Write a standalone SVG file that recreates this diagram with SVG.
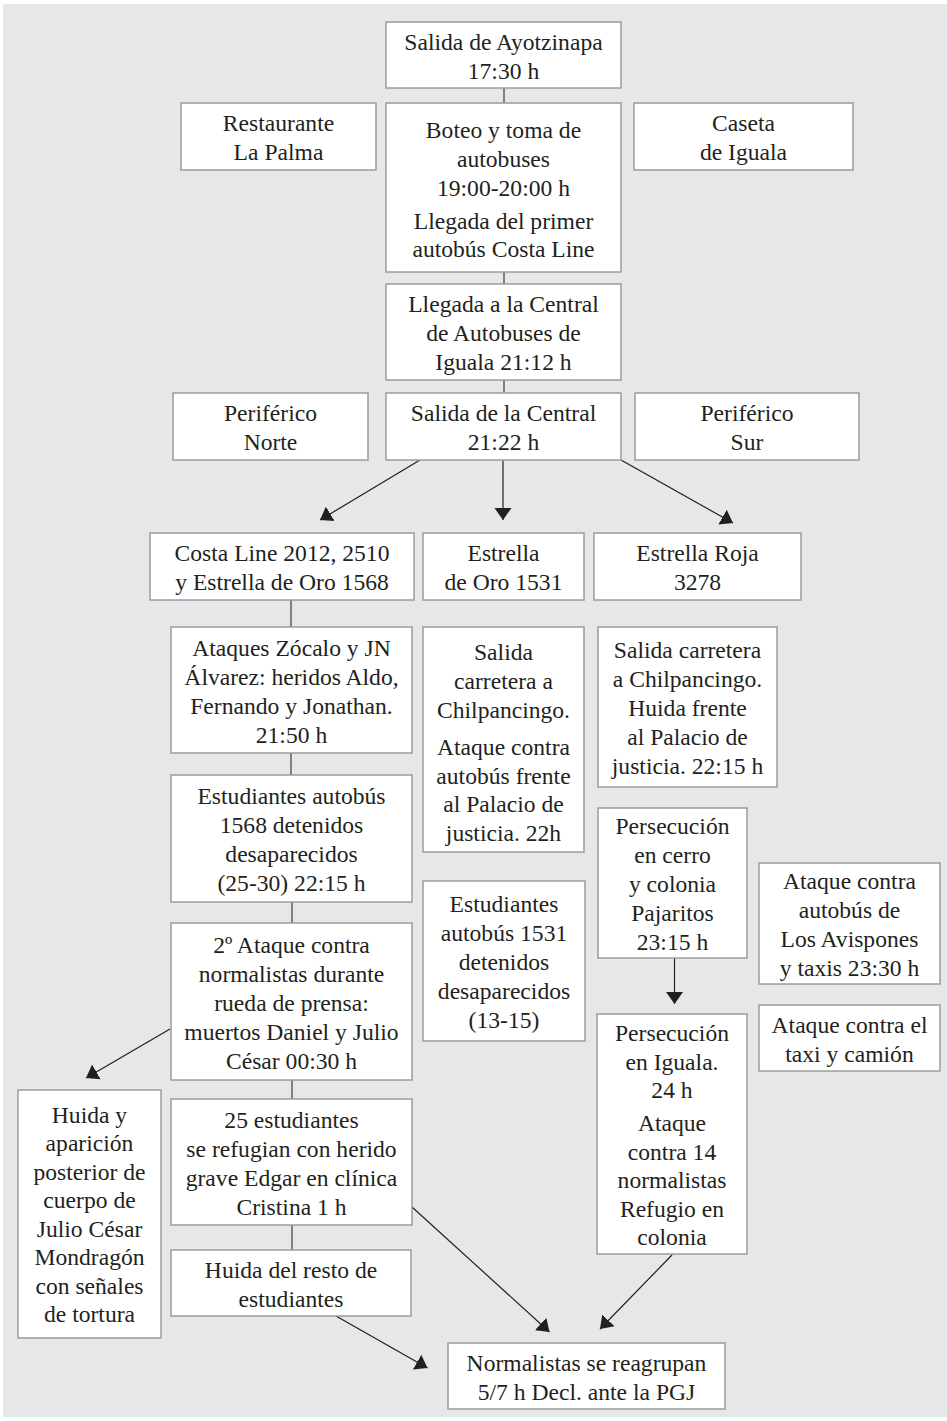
<svg xmlns="http://www.w3.org/2000/svg" width="947" height="1421" viewBox="0 0 947 1421">
  <defs>
    <style>
      .box { fill: #ffffff; stroke: #9c9c9c; stroke-width: 1.5; }
      .t { font-family: "Liberation Serif", "Times New Roman", serif; font-size: 23.6px; fill: #231f20; text-anchor: middle; }
      .ln { stroke: #3c3c3c; stroke-width: 1.2; fill: none; }
      .arr { stroke: #231f20; stroke-width: 1.2; fill: none; marker-end: url(#head); }
    </style>
    <marker id="head" markerUnits="userSpaceOnUse" markerWidth="14" markerHeight="20" refX="12" refY="9" orient="auto">
      <path d="M0,0.5 L12,9 L0,17.5 z" fill="#231f20"/>
    </marker>
  </defs>

  <!-- page background -->
  <rect x="3" y="4" width="944" height="1413" fill="#e6e7e8"/>

  <!-- connectors -->
  <g id="connectors">
    <line class="ln" x1="504" y1="88" x2="504" y2="103"/>
    <line class="ln" x1="504" y1="272" x2="504" y2="284"/>
    <line class="ln" x1="504" y1="380" x2="504" y2="393"/>
    <line class="arr" x1="420" y1="460" x2="320" y2="520"/>
    <line class="arr" x1="503" y1="460" x2="503" y2="520"/>
    <line class="arr" x1="621" y1="460" x2="733" y2="523"/>
    <line class="ln" x1="291" y1="600" x2="291" y2="627"/>
    <line class="ln" x1="291" y1="753" x2="291" y2="775"/>
    <line class="ln" x1="292" y1="902" x2="292" y2="923"/>
    <line class="ln" x1="292" y1="1080" x2="292" y2="1099"/>
    <line class="ln" x1="292" y1="1225" x2="292" y2="1250"/>
    <line class="arr" x1="674.5" y1="958" x2="674.5" y2="1004"/>
    <line class="arr" x1="170" y1="1029" x2="86" y2="1078"/>
    <line class="arr" x1="412" y1="1207" x2="549.5" y2="1332"/>
    <line class="arr" x1="672" y1="1255" x2="600" y2="1329"/>
    <line class="arr" x1="336" y1="1316" x2="427.5" y2="1368"/>
  </g>

  <g id="salida-ayotzinapa">
    <rect class="box" x="386" y="22" width="235" height="66"/>
    <text class="t"><tspan x="503.5" y="49.5">Salida de Ayotzinapa</tspan><tspan x="503.5" y="78.5">17:30 h</tspan></text>
  </g>

  <g id="restaurante">
    <rect class="box" x="181" y="103" width="195" height="67"/>
    <text class="t"><tspan x="278.5" y="131">Restaurante</tspan><tspan x="278.5" y="160">La Palma</tspan></text>
  </g>

  <g id="boteo">
    <rect class="box" x="386" y="103" width="235" height="169"/>
    <text class="t"><tspan x="503.5" y="138">Boteo y toma de</tspan><tspan x="503.5" y="167">autobuses</tspan><tspan x="503.5" y="196">19:00-20:00 h</tspan><tspan x="503.5" y="229">Llegada del primer</tspan><tspan x="503.5" y="257">autobús Costa Line</tspan></text>
  </g>

  <g id="caseta">
    <rect class="box" x="634" y="103" width="219" height="67"/>
    <text class="t"><tspan x="743.5" y="131">Caseta</tspan><tspan x="743.5" y="160">de Iguala</tspan></text>
  </g>

  <g id="llegada-central">
    <rect class="box" x="386" y="284" width="235" height="96"/>
    <text class="t"><tspan x="503.5" y="312">Llegada a la Central</tspan><tspan x="503.5" y="341">de Autobuses de</tspan><tspan x="503.5" y="370">Iguala 21:12 h</tspan></text>
  </g>

  <g id="periferico-norte">
    <rect class="box" x="173" y="393" width="195" height="67"/>
    <text class="t"><tspan x="270.5" y="421">Periférico</tspan><tspan x="270.5" y="450">Norte</tspan></text>
  </g>

  <g id="salida-central">
    <rect class="box" x="386" y="393" width="235" height="67"/>
    <text class="t"><tspan x="503.5" y="421">Salida de la Central</tspan><tspan x="503.5" y="450">21:22 h</tspan></text>
  </g>

  <g id="periferico-sur">
    <rect class="box" x="635" y="393" width="224" height="67"/>
    <text class="t"><tspan x="747" y="421">Periférico</tspan><tspan x="747" y="450">Sur</tspan></text>
  </g>

  <g id="costa-line">
    <rect class="box" x="150" y="533" width="264" height="67"/>
    <text class="t"><tspan x="282" y="561">Costa Line 2012, 2510</tspan><tspan x="282" y="590">y Estrella de Oro 1568</tspan></text>
  </g>

  <g id="estrella-oro">
    <rect class="box" x="423" y="533" width="161" height="67"/>
    <text class="t"><tspan x="503.5" y="561">Estrella</tspan><tspan x="503.5" y="590">de Oro 1531</tspan></text>
  </g>

  <g id="estrella-roja">
    <rect class="box" x="594" y="533" width="207" height="67"/>
    <text class="t"><tspan x="697.5" y="561">Estrella Roja</tspan><tspan x="697.5" y="590">3278</tspan></text>
  </g>

  <g id="ataques-zocalo">
    <rect class="box" x="171" y="627" width="241" height="126"/>
    <text class="t"><tspan x="291.5" y="655.5">Ataques Zócalo y JN</tspan><tspan x="291.5" y="684.5">Álvarez: heridos Aldo,</tspan><tspan x="291.5" y="713.5">Fernando y Jonathan.</tspan><tspan x="291.5" y="742.5">21:50 h</tspan></text>
  </g>

  <g id="salida-carretera-ataque">
    <rect class="box" x="423" y="627" width="161" height="225"/>
    <text class="t"><tspan x="503.5" y="660">Salida</tspan><tspan x="503.5" y="689">carretera a</tspan><tspan x="503.5" y="717.5">Chilpancingo.</tspan><tspan x="503.5" y="755">Ataque contra</tspan><tspan x="503.5" y="783.5">autobús frente</tspan><tspan x="503.5" y="812">al Palacio de</tspan><tspan x="503.5" y="840.5">justicia. 22h</tspan></text>
  </g>

  <g id="salida-carretera-huida">
    <rect class="box" x="598" y="627" width="179" height="160"/>
    <text class="t"><tspan x="687.5" y="658">Salida carretera</tspan><tspan x="687.5" y="687">a Chilpancingo.</tspan><tspan x="687.5" y="716">Huida frente</tspan><tspan x="687.5" y="745">al Palacio de</tspan><tspan x="687.5" y="774">justicia. 22:15 h</tspan></text>
  </g>

  <g id="estudiantes-1568">
    <rect class="box" x="171" y="775" width="241" height="127"/>
    <text class="t"><tspan x="291.5" y="804">Estudiantes autobús</tspan><tspan x="291.5" y="833">1568 detenidos</tspan><tspan x="291.5" y="862">desaparecidos</tspan><tspan x="291.5" y="891">(25-30) 22:15 h</tspan></text>
  </g>

  <g id="persecucion-cerro">
    <rect class="box" x="598" y="808" width="149" height="150"/>
    <text class="t"><tspan x="672.5" y="834">Persecución</tspan><tspan x="672.5" y="863">en cerro</tspan><tspan x="672.5" y="892">y colonia</tspan><tspan x="672.5" y="921">Pajaritos</tspan><tspan x="672.5" y="950">23:15 h</tspan></text>
  </g>

  <g id="ataque-avispones">
    <rect class="box" x="759" y="863" width="181" height="121"/>
    <text class="t"><tspan x="849.5" y="889">Ataque contra</tspan><tspan x="849.5" y="918">autobús de</tspan><tspan x="849.5" y="947">Los Avispones</tspan><tspan x="849.5" y="976">y taxis 23:30 h</tspan></text>
  </g>

  <g id="estudiantes-1531">
    <rect class="box" x="423" y="881" width="162" height="160"/>
    <text class="t"><tspan x="504" y="912">Estudiantes</tspan><tspan x="504" y="941">autobús 1531</tspan><tspan x="504" y="970">detenidos</tspan><tspan x="504" y="999">desaparecidos</tspan><tspan x="504" y="1028">(13-15)</tspan></text>
  </g>

  <g id="segundo-ataque">
    <rect class="box" x="171" y="923" width="241" height="157"/>
    <text class="t"><tspan x="291.5" y="952.5">2º Ataque contra</tspan><tspan x="291.5" y="981.5">normalistas durante</tspan><tspan x="291.5" y="1010.5">rueda de prensa:</tspan><tspan x="291.5" y="1039.5">muertos Daniel y Julio</tspan><tspan x="291.5" y="1068.5">César 00:30 h</tspan></text>
  </g>

  <g id="ataque-taxi">
    <rect class="box" x="759" y="1005" width="181" height="66"/>
    <text class="t"><tspan x="849.5" y="1032.5">Ataque contra el</tspan><tspan x="849.5" y="1061.5">taxi y camión</tspan></text>
  </g>

  <g id="persecucion-iguala">
    <rect class="box" x="597" y="1014" width="150" height="240"/>
    <text class="t"><tspan x="672" y="1041">Persecución</tspan><tspan x="672" y="1069.5">en Iguala.</tspan><tspan x="672" y="1098">24 h</tspan><tspan x="672" y="1131">Ataque</tspan><tspan x="672" y="1159.5">contra 14</tspan><tspan x="672" y="1188">normalistas</tspan><tspan x="672" y="1216.5">Refugio en</tspan><tspan x="672" y="1245">colonia</tspan></text>
  </g>

  <g id="huida-aparicion">
    <rect class="box" x="18" y="1090" width="143" height="248"/>
    <text class="t"><tspan x="89.5" y="1122.5">Huida y</tspan><tspan x="89.5" y="1151">aparición</tspan><tspan x="89.5" y="1179.5">posterior de</tspan><tspan x="89.5" y="1208">cuerpo de</tspan><tspan x="89.5" y="1236.5">Julio César</tspan><tspan x="89.5" y="1265">Mondragón</tspan><tspan x="89.5" y="1293.5">con señales</tspan><tspan x="89.5" y="1322">de tortura</tspan></text>
  </g>

  <g id="refugio-clinica">
    <rect class="box" x="171" y="1099" width="241" height="126"/>
    <text class="t"><tspan x="291.5" y="1127.5">25 estudiantes</tspan><tspan x="291.5" y="1156.5">se refugian con herido</tspan><tspan x="291.5" y="1185.5">grave Edgar en clínica</tspan><tspan x="291.5" y="1214.5">Cristina 1 h</tspan></text>
  </g>

  <g id="huida-resto">
    <rect class="box" x="171" y="1250" width="240" height="66"/>
    <text class="t"><tspan x="291" y="1277.5">Huida del resto de</tspan><tspan x="291" y="1306.5">estudiantes</tspan></text>
  </g>

  <g id="reagrupan">
    <rect class="box" x="448" y="1343" width="277" height="66"/>
    <text class="t"><tspan x="586.5" y="1370.5">Normalistas se reagrupan</tspan><tspan x="586.5" y="1399.5">5/7 h Decl. ante la PGJ</tspan></text>
  </g>
</svg>
